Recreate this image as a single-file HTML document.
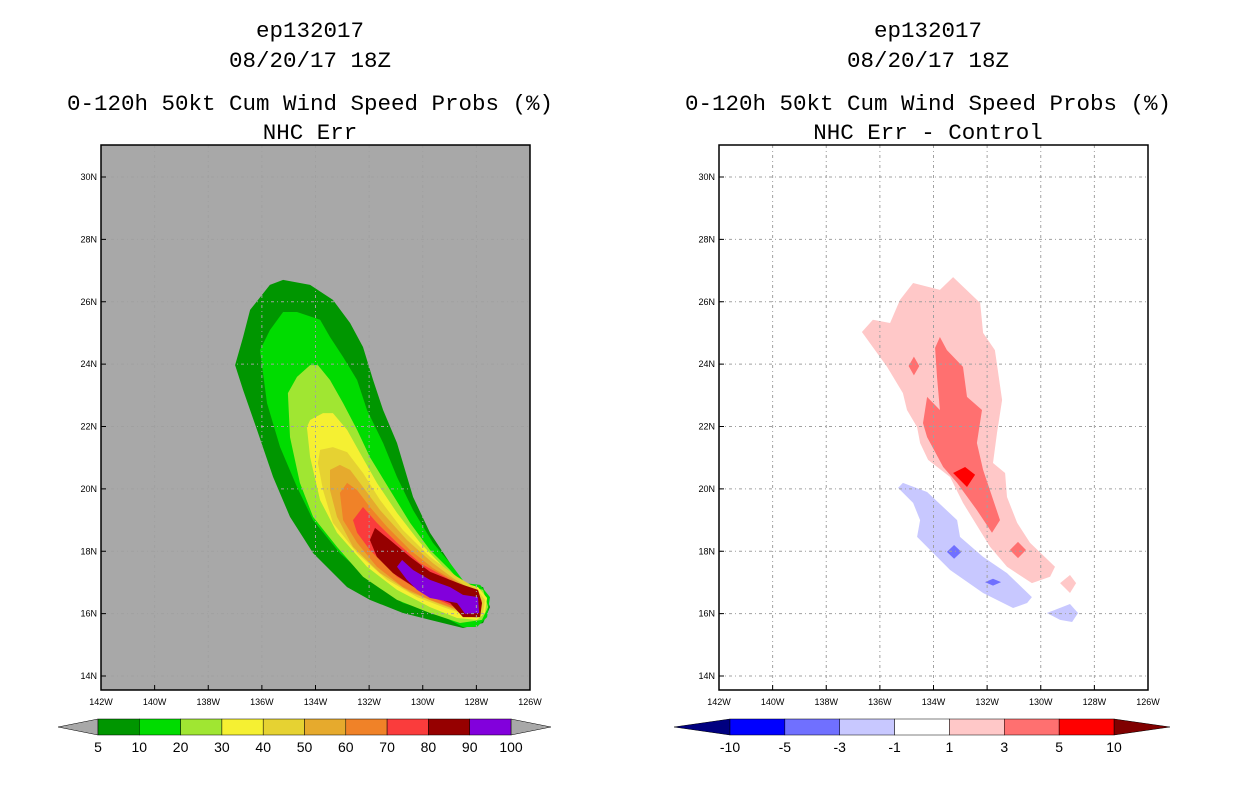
<!DOCTYPE html>
<html><head><meta charset="utf-8"><style>
body{margin:0;background:#fff;width:1236px;height:800px;overflow:hidden;font-family:"Liberation Sans",sans-serif}
svg text{font-family:"Liberation Sans",sans-serif}
svg .ttl text{font-family:"Liberation Mono",monospace}
</style></head><body>
<svg id="chart" width="1236" height="800" viewBox="0 0 1236 800" xmlns="http://www.w3.org/2000/svg">
<g class="ttl" font-size="22.5" text-anchor="middle" fill="#000">
<text x="310" y="37">ep132017</text><text x="310" y="67">08/20/17 18Z</text>
<text x="310" y="110">0-120h 50kt Cum Wind Speed Probs (%)</text><text x="310" y="139">NHC Err</text></g>
<g class="ttl" font-size="22.5" text-anchor="middle" fill="#000">
<text x="928" y="37">ep132017</text><text x="928" y="67">08/20/17 18Z</text>
<text x="928" y="110">0-120h 50kt Cum Wind Speed Probs (%)</text><text x="928" y="139">NHC Err - Control</text></g>
<g id="left"></g>
<g id="right"></g>
<g id="cbl"></g>
<g id="cbr"></g>
</svg>
<script>
const lonTicks=[-142,-140,-138,-136,-134,-132,-130,-128,-126];
const latTicks=[14,16,18,20,22,24,26,28,30];
const probColors=["#009600","#00dc00","#a0e632","#f5f032","#e6d232","#e6aa2d","#f08228","#fa3c3c","#960000","#8200dc"];
const probLevels=["5","10","20","30","40","50","60","70","80","90","100"];
const diffColors=["#0000ff","#7070ff","#c8c8ff","#ffffff","#ffc8c8","#ff7070","#ff0000"];
const diffLevels=["-10","-5","-3","-1","1","3","5","10"];
const p5=[[-135.7,26.54],[-135.21,26.7],[-134.2,26.54],[-133.35,26.06],[-132.71,25.32],[-132.23,24.55],[-131.85,23.49],[-131.48,22.53],[-130.96,21.47],[-130.36,19.74],[-129.73,18.59],[-128.98,17.62],[-128.5,16.98],[-127.75,16.85],[-127.49,16.21],[-127.75,15.7],[-128.5,15.54],[-129.73,15.8],[-130.74,16.02],[-131.97,16.44],[-132.82,16.85],[-134.09,17.94],[-134.95,19.1],[-135.58,20.38],[-136.18,21.89],[-136.7,23.17],[-137.0,23.97],[-136.7,24.87],[-136.44,25.74]];
const p10=[[-135.21,25.67],[-134.69,25.67],[-133.83,25.42],[-133.46,24.87],[-132.97,24.23],[-132.45,23.49],[-132.08,22.53],[-131.48,21.47],[-130.96,20.38],[-130.36,19.32],[-129.62,18.27],[-128.98,17.62],[-128.42,16.98],[-127.86,16.92],[-127.49,16.53],[-127.6,15.89],[-127.98,15.57],[-128.5,15.57],[-129.47,16.02],[-130.74,16.34],[-131.97,17.08],[-133.09,17.94],[-134.09,19.0],[-134.69,20.06],[-135.32,21.34],[-135.81,22.75],[-136.07,24.45],[-135.7,25.09]];
const p20=[[-134.2,23.97],[-133.91,23.97],[-133.46,23.49],[-132.97,22.75],[-132.45,21.89],[-131.97,21.02],[-131.22,19.96],[-130.47,18.91],[-129.73,18.04],[-128.98,17.4],[-128.5,16.92],[-127.75,16.76],[-127.56,16.21],[-127.79,15.8],[-128.61,15.7],[-129.73,16.02],[-130.96,16.44],[-132.23,17.18],[-133.2,18.14],[-134.09,19.1],[-134.58,20.19],[-134.95,21.66],[-135.03,23.07],[-134.69,23.59]];
const p30=[[-134.2,22.21],[-133.72,22.43],[-133.35,22.43],[-132.82,21.89],[-132.34,21.15],[-131.71,20.19],[-130.96,19.23],[-130.1,18.27],[-129.24,17.5],[-128.61,17.02],[-127.94,16.85],[-127.6,16.5],[-127.68,16.02],[-127.98,15.8],[-128.72,15.86],[-129.73,16.21],[-130.96,16.76],[-132.08,17.5],[-133.2,18.59],[-133.83,19.64],[-134.2,21.02],[-134.32,21.98]];
const p40=[[-133.83,21.25],[-133.35,21.34],[-132.82,21.18],[-132.23,20.51],[-131.59,19.64],[-130.74,18.68],[-129.73,17.82],[-128.72,17.18],[-128.01,16.82],[-127.68,16.44],[-127.75,16.02],[-128.05,15.86],[-129.24,16.21],[-130.21,16.53],[-131.33,17.08],[-132.45,17.94],[-133.35,18.91],[-133.72,19.96],[-133.91,20.83]];
const p50=[[-133.46,20.61],[-133.09,20.77],[-132.71,20.61],[-132.23,20.06],[-131.59,19.32],[-130.59,18.36],[-129.62,17.62],[-128.87,17.14],[-128.16,16.76],[-127.79,16.44],[-127.86,16.05],[-128.16,15.92],[-129.47,16.34],[-130.47,16.69],[-131.59,17.3],[-132.6,18.14],[-133.2,19.1],[-133.46,19.96]];
const p60=[[-133.09,19.87],[-132.82,20.19],[-132.45,19.96],[-131.97,19.42],[-131.33,18.78],[-130.47,18.04],[-129.62,17.46],[-128.87,17.08],[-128.24,16.69],[-127.9,16.37],[-127.98,16.08],[-128.24,15.99],[-129.73,16.44],[-130.74,16.85],[-131.71,17.5],[-132.45,18.27],[-132.97,19.0]];
const p70=[[-132.6,19.0],[-132.23,19.42],[-131.71,18.91],[-130.96,18.27],[-130.1,17.62],[-129.09,17.14],[-128.39,16.69],[-128.01,16.37],[-128.09,16.12],[-128.39,16.05],[-129.84,16.6],[-130.96,17.18],[-131.97,18.04],[-132.45,18.59]];
const p80=[[-131.97,18.36],[-131.78,18.75],[-131.22,18.36],[-130.47,17.82],[-129.73,17.34],[-128.98,17.08],[-128.5,16.92],[-127.94,16.76],[-127.79,16.34],[-127.86,15.89],[-128.5,15.89],[-128.98,16.34],[-129.99,16.66],[-131.11,17.3],[-131.71,17.82]];
const p90=[[-130.96,17.5],[-130.77,17.72],[-130.36,17.4],[-129.73,17.08],[-128.98,16.85],[-128.5,16.6],[-127.94,16.53],[-127.9,16.02],[-128.42,15.99],[-128.72,16.34],[-129.73,16.5],[-130.21,16.76],[-130.59,17.08]];
const dPos1=[[-136.67,25.03],[-136.26,25.42],[-135.62,25.32],[-135.25,26.06],[-134.76,26.6],[-133.76,26.38],[-133.27,26.79],[-132.26,25.96],[-132.15,25.0],[-131.71,24.45],[-131.44,22.85],[-131.63,21.79],[-131.78,20.83],[-131.33,20.51],[-131.26,19.74],[-130.88,18.91],[-130.4,18.27],[-129.47,17.5],[-129.65,17.18],[-130.33,16.98],[-131.26,17.5],[-131.89,18.14],[-132.9,19.55],[-133.38,20.38],[-134.2,20.93],[-134.5,21.47],[-134.61,21.98],[-134.99,22.53],[-135.14,23.07],[-135.73,23.91]];
const dPos1b=[[-129.28,16.98],[-128.91,17.24],[-128.68,16.98],[-128.91,16.66]];
const dPos3=[[-133.94,24.52],[-133.76,24.87],[-133.5,24.45],[-132.9,23.91],[-132.75,22.95],[-132.19,22.53],[-132.38,21.47],[-132.15,20.61],[-131.52,19.0],[-131.82,18.59],[-132.38,19.32],[-133.12,20.19],[-133.64,20.7],[-134.24,21.66],[-134.39,22.11],[-134.24,22.95],[-133.76,22.53],[-133.87,23.59]];
const dPos3a=[[-134.93,23.94],[-134.73,24.24],[-134.53,23.94],[-134.73,23.64]];
const dPos3b=[[-131.15,18.04],[-130.85,18.3],[-130.55,18.04],[-130.85,17.78]];
const dPos5=[[-133.27,20.51],[-132.82,20.7],[-132.45,20.45],[-132.75,20.06]];
const dNeg1=[[-135.32,20.03],[-135.14,20.19],[-134.24,19.9],[-133.12,19.0],[-133.01,18.46],[-132.15,17.82],[-131.26,17.3],[-130.33,16.53],[-130.51,16.34],[-131.03,16.18],[-132.15,16.66],[-133.38,17.4],[-134.61,18.46],[-134.5,19.0],[-134.76,19.55]];
const dNeg1b=[[-129.77,16.02],[-128.91,16.31],[-128.61,16.02],[-128.83,15.73],[-129.28,15.8]];
const dNeg3a=[[-133.5,17.98],[-133.23,18.2],[-132.96,17.98],[-133.23,17.76]];
const dNeg3b=[[-132.08,17.01],[-131.78,17.12],[-131.48,17.01],[-131.78,16.9]];

const NS="http://www.w3.org/2000/svg";
function mk(parent,tag,attrs){const e=document.createElementNS(NS,tag);for(const k in attrs)e.setAttribute(k,attrs[k]);parent.appendChild(e);return e;}
const X0=101,W=429,Y0=145,H=545;
function xs(off){return lon=>off+X0+(lon+142)/16*W;}
function ys(lat){return 177+(30-lat)*(499/16);}
function panel(g,off,bg,layers){
  const sx=xs(off);
  const bgR=mk(g,'rect',{x:off+X0,y:Y0,width:W,height:H,fill:bg});
  
  
  layers.forEach(([pts,col,nm])=>{
    const p=mk(g,'polygon',{points:pts.map(q=>sx(q[0]).toFixed(1)+','+ys(q[1]).toFixed(1)).join(' '),fill:col});
    
    
  });
  lonTicks.forEach(l=>{
    const x=sx(l);
    if(l>-142&&l<-126){const gl=mk(g,'line',{x1:x,y1:Y0,x2:x,y2:Y0+H,stroke:'#a0a0a0','stroke-dasharray':'3,3,1,3','stroke-width':1});
    
    }
    mk(g,'line',{x1:x,y1:Y0+H,x2:x,y2:Y0+H-5,stroke:'#000'});
    const t=mk(g,'text',{x:x,y:705,'font-size':9,'text-anchor':'middle'});t.textContent=(-l)+'W';
    
    
  });
  latTicks.forEach(l=>{
    const y=ys(l);
    const gl=mk(g,'line',{x1:off+X0,y1:y,x2:off+X0+W,y2:y,stroke:'#a0a0a0','stroke-dasharray':'3,3,1,3','stroke-width':1});
    
    
    mk(g,'line',{x1:off+X0,y1:y,x2:off+X0+5,y2:y,stroke:'#000'});
    const t=mk(g,'text',{x:off+X0-4,y:y+3,'font-size':9,'text-anchor':'end'});t.textContent=l+'N';
    
    
  });
  mk(g,'rect',{x:off+X0,y:Y0,width:W,height:H,fill:'none',stroke:'#000','stroke-width':1.5});
}
panel(document.getElementById('left'),0,'#a8a8a8',[[p5,probColors[0],'contour-5'],[p10,probColors[1],'contour-10'],[p20,probColors[2],'contour-20'],[p30,probColors[3],'contour-30'],[p40,probColors[4],'contour-40'],[p50,probColors[5],'contour-50'],[p60,probColors[6],'contour-60'],[p70,probColors[7],'contour-70'],[p80,probColors[8],'contour-80'],[p90,probColors[9],'contour-90']]);
panel(document.getElementById('right'),618,'#ffffff',[[dPos1,diffColors[4],'diff-pos-1'],[dPos1b,diffColors[4],'diff-pos-1-island'],[dPos3,diffColors[5],'diff-pos-3'],[dPos3a,diffColors[5],'diff-pos-3-spot'],[dPos3b,diffColors[5],'diff-pos-3-spot'],[dPos5,diffColors[6],'diff-pos-5'],[dNeg1,diffColors[2],'diff-neg-1'],[dNeg1b,diffColors[2],'diff-neg-1-island'],[dNeg3a,diffColors[1],'diff-neg-3-spot'],[dNeg3b,diffColors[1],'diff-neg-3-spot']]);

function colorbar(g,x0,x1,tri,cols,labels,lowCol,highCol){
  const y=719,h=16,n=cols.length,w=(x1-x0)/n;
  const a=mk(g,'polygon',{points:`${x0-tri},${y+h/2} ${x0},${y} ${x0},${y+h}`,fill:lowCol,stroke:'#000','stroke-width':0.5});
  
  
  const b=mk(g,'polygon',{points:`${x1+tri},${y+h/2} ${x1},${y} ${x1},${y+h}`,fill:highCol,stroke:'#000','stroke-width':0.5});
  
  
  cols.forEach((c,i)=>{const r=mk(g,'rect',{x:x0+i*w,y:y,width:w,height:h,fill:c,stroke:'#000','stroke-width':0.5});
    
    });
  labels.forEach((l,i)=>{const t=mk(g,'text',{x:x0+i*w,y:752,'font-size':14,'text-anchor':'middle'});t.textContent=l;
    
    });
}
colorbar(document.getElementById('cbl'),98,511,40,probColors,probLevels,'#a8a8a8','#a8a8a8');
colorbar(document.getElementById('cbr'),730,1114,56,diffColors,diffLevels,'#000080','#800000');
</script>
</body></html>
